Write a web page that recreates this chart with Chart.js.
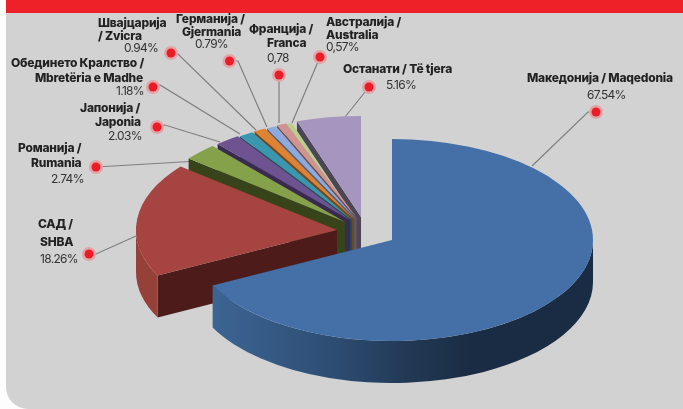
<!DOCTYPE html>
<html><head><meta charset="utf-8">
<style>
html,body{margin:0;padding:0;background:#fdfdfd;width:683px;height:409px;overflow:hidden}
#panel{position:absolute;left:6px;top:0;width:690px;height:409px;background:#d2d2d2;border-radius:0 0 0 22px}
#bar{position:absolute;left:6px;top:0;width:677px;height:13px;background:#ee2028}
#wrap{position:absolute;left:0;top:0;width:683px;height:409px}
</style>
<script src="https://cdn.jsdelivr.net/npm/chart.js@4"></script>
</head><body>
<div id="panel"></div><div id="bar"></div>
<div id="wrap"><canvas id="c" width="683" height="409"></canvas></div>
<script>
// DATA
const categories = ['Македонија / Maqedonia','САД / SHBA','Романија / Rumania','Јапонија / Japonia','Обединето Кралство / Mbretëria e Madhe','Швајцарија / Zvicra','Германија / Gjermania','Франција / Franca','Австралија / Australia','Останати / Të tjera'];
const shares = [67.54,18.26,2.74,2.03,1.18,0.94,0.79,0.78,0.57,5.16];
const shareLabels = ['67.54%','18.26%','2.74%','2.03%','1.18%','0.94%','0.79%','0,78','0,57%','5.16%'];

// STYLE
const topColors  = ['#4470a7','#a54441','#85a24a','#6f5290','#3a97b0','#dd8335','#8eaadc','#cf9391','#b9d08c','#a696bf'];
const cutColors  = ['#2c4b70','#4d1c1a','#374419','#3b2a50','#1c4e5c','#7a4414','#4a5d7d','#6e4b4a','#5f6d48','#4a4658'];
const wallColors = [null,'#96403a','#5f7535','#513c6a','#2a7085','#a56026','#6a80a8','#9a6d6c','#8a9c68','#7d7090'];
const pieCentre = {x:392, y:240};
const squash = 0.5025, depth = 42;
// apex of every exploded slice relative to the pie centre, in slice order
const shiftX = [0,-55,-47,-42,-40,-38,-36,-35,-36,-31];
const shiftY = [0,-10,-18,-20,-20,-21,-21,-22,-21,-23];
const paintOrder = [9,8,7,6,5,4,3,2,1,0];

// callouts: dot, optional elbow, end on slice
const callouts = [
 [[596,112],[588,112],[532,166]],
 [[89,254],[96,254],[136,236]],
 [[96,167],[190,161.5]],
 [[157,127],[165,125],[220,142]],
 [[153,87],[160,85],[240,134]],
 [[171,53],[177,53],[256,130]],
 [[229.5,61],[238,61],[267,127]],
 [[279,75],[279,123]],
 [[320,57],[292,123]],
 [[369,87],[345,117]]
];
// label lines: text, x, y centre
const labelLines = [
 [['Македонија / Maqedonia',527,78]],
 [['САД /',38,224],['SHBA',40,242]],
 [['Романија /',18,148],['Rumania',31,163]],
 [['Јапонија /',80,108],['Japonia',95,122]],
 [['Обединето Кралство /',11,63],['Mbretëria e Madhe',35,78]],
 [['Швајцарија',98,23],['/ Zvicra',98,36]],
 [['Германија /',176,19.5],['Gjermania',182,32]],
 [['Франција /',249,29.5],['Franca',267,43]],
 [['Австралија /',326,22],['Australia',326,35]],
 [['Останати / Të tjera',343,69]]
];
const valuePos = [[587,95],[40,259],[51,179],[108,136],[116,91],[124,48],[195,44],[267,58],[326,47],[386,85]];

const pie3d = {
  id:'pie3d',
  beforeDatasetsDraw(chart){
    const ctx = chart.ctx;
    // leader lines
    ctx.save();
    ctx.strokeStyle='#7f7f7f'; ctx.lineWidth=1.2;
    callouts.forEach(pts=>{
      ctx.beginPath();
      pts.forEach((p,i)=> i?ctx.lineTo(p[0],p[1]):ctx.moveTo(p[0],p[1]));
      ctx.stroke();
    });
    ctx.restore();
  },
  beforeDatasetDraw(chart,args){
    const ctx = chart.ctx, arcs = chart.getDatasetMeta(args.index).data;
    paintOrder.forEach(i=>{
      const a = arcs[i], r = a.outerRadius, ry = r*squash;
      const X = pieCentre.x+shiftX[i], Y = pieCentre.y+shiftY[i];
      const s = a.startAngle, e = a.endAngle;
      ctx.save();
      ctx.translate(X,Y);
      // cut wall on the start edge
      const sx = r*Math.cos(s), sy = ry*Math.sin(s);
      ctx.fillStyle = cutColors[i];
      ctx.beginPath();
      ctx.moveTo(0,0); ctx.lineTo(sx,sy); ctx.lineTo(sx,sy+depth); ctx.lineTo(0,depth); ctx.closePath();
      ctx.fill();
      // outer wall: only the front half of the ellipse shows
      const a0 = Math.max(s,0), a1 = Math.min(e,Math.PI);
      if(a1>a0){
        let fill = wallColors[i];
        if(i===0){
          fill = ctx.createLinearGradient(213-X,0,593-X,0);
          fill.addColorStop(0,'#3c6594');
          fill.addColorStop(0.33,'#2d4c71');
          fill.addColorStop(0.49,'#233b58');
          fill.addColorStop(0.68,'#1a2c43');
          fill.addColorStop(1,'#1a2c43');
        }
        ctx.fillStyle = fill;
        ctx.beginPath();
        ctx.ellipse(0,0,r,ry,0,a0,a1,false);
        ctx.ellipse(0,depth,r,ry,0,a1,a0,true);
        ctx.closePath();
        ctx.fill();
      }
      // top face: the library's own arc element, tilted
      ctx.scale(1,squash);
      ctx.translate(-a.x,-a.y);
      a.draw(ctx);
      ctx.restore();
    });
    return false;
  },
  afterDatasetsDraw(chart){
    const ctx = chart.ctx;
    ctx.save();
    callouts.forEach(pts=>{
      const [x,y]=pts[0];
      ctx.fillStyle='#e3a4a8';
      ctx.beginPath(); ctx.arc(x,y,7,0,Math.PI*2); ctx.fill();
      ctx.fillStyle='#ec1c26';
      ctx.beginPath(); ctx.arc(x,y,4.5,0,Math.PI*2); ctx.fill();
    });
    ctx.textAlign='left'; ctx.textBaseline='middle';
    ctx.letterSpacing='-0.2px';
    ctx.font='800 12px Inter'; ctx.fillStyle='#222';
    labelLines.forEach(lines=>lines.forEach(l=>ctx.fillText(l[0],l[1],l[2])));
    ctx.letterSpacing='-0.7px';
    ctx.font='400 12px Inter'; ctx.fillStyle='#333';
    shareLabels.forEach((t,i)=>ctx.fillText(t,valuePos[i][0],valuePos[i][1]));
    ctx.restore();
  }
};

new Chart(document.getElementById('c'),{
  type:'pie',
  data:{labels:categories,datasets:[{data:shares,backgroundColor:topColors,borderWidth:0}]},
  options:{
    responsive:false,animation:false,
    layout:{padding:{left:101,top:3,bottom:4}},
    plugins:{legend:{display:false},tooltip:{enabled:false}}
  },
  plugins:[pie3d]
});
</script>
</body></html>
